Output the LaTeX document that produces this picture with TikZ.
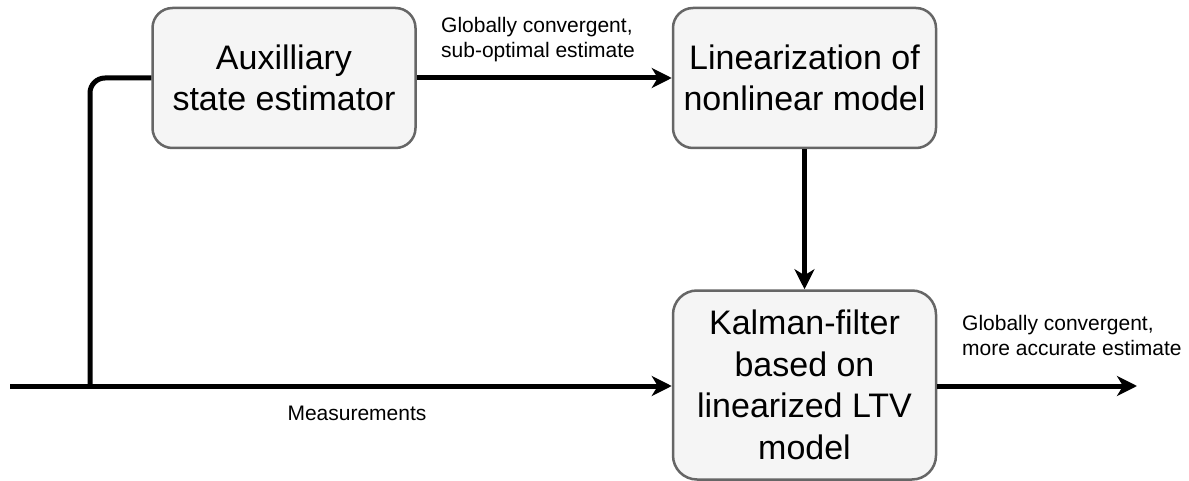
\documentclass[tikz,border=0pt]{standalone}
\usepackage{fontspec}
\setmainfont{Liberation Sans}
\usetikzlibrary{arrows.meta}
\definecolor{boxfill}{HTML}{F5F5F5}
\definecolor{boxline}{HTML}{666666}
\begin{document}
\begin{tikzpicture}[x=1pt,y=-1pt,
  blockbox/.style={draw=boxline, fill=boxfill, line width=2.5pt, rounded corners=20pt,
    align=center, inner sep=0pt, font=\fontsize{34}{41.5}\selectfont},
  wire/.style={line width=5pt},
  conn/.style={wire, -{Stealth[length=20pt,width=20pt,inset=6pt]}},
  lbl/.style={font=\fontsize{21}{25}\selectfont, align=left, inner sep=0pt}]
\useasboundingbox (0,0) rectangle (1189,481);
\node[blockbox, minimum width=263pt, minimum height=140pt] (aux) at (284,78) {Auxilliary\\state estimator};
\node[blockbox, minimum width=263pt, minimum height=140pt] (lin) at (804.5,78) {Linearization of\\nonlinear model};
\node[blockbox, minimum width=263pt, minimum height=189pt, rounded corners=24pt] (kal) at (804.5,385) {Kalman-filter\\based on\\linearized LTV\\model};
\coordinate (in) at (10,386);
\coordinate (br) at (90,386);
\coordinate (out) at (1137,386);
\draw[conn] (aux.east) -- (lin.west);
\draw[conn] (lin.south) -- (kal.north);
\draw[conn] (in) -- (kal.west |- in);
\draw[wire, rounded corners=15pt] (br) |- (aux.west);
\draw[conn] (kal.east |- out) -- (out);
\node[lbl, anchor=north west] (l1) at (441,17.5) {Globally convergent,\\sub-optimal estimate};
\node[lbl, anchor=north west] (l2) at (962,315.5) {Globally convergent,\\more accurate estimate};
\node[lbl] (l3) at (357,413) {Measurements};
\end{tikzpicture}
\end{document}
